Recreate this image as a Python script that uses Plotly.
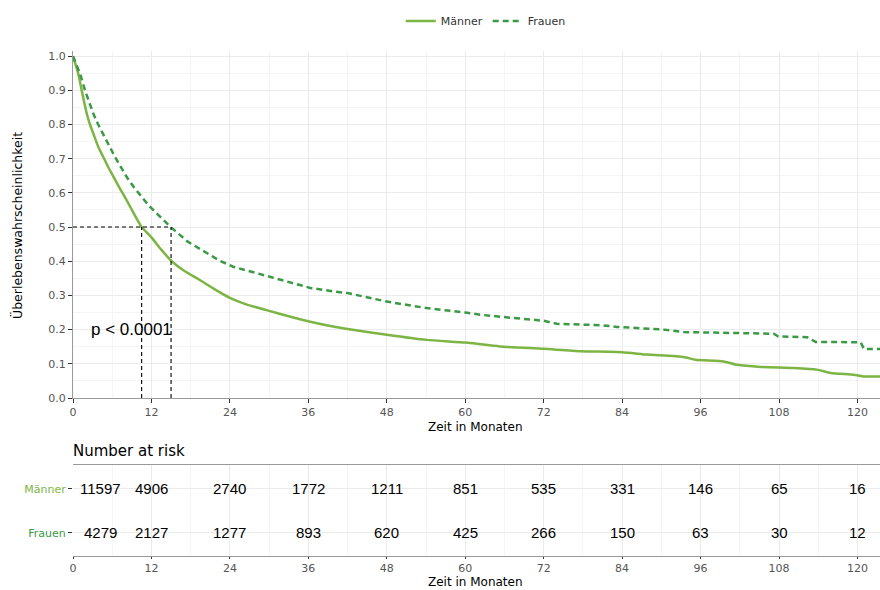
import plotly.graph_objects as go

# Kaplan-Meier estimates (months, survival probability)
t_maenner = [0, 0.4, 0.8, 1.33, 2.1, 2.6, 3.1, 3.8, 4.6, 5.4, 6.2, 7.2, 8.2, 9.3, 10.5, 12.0, 13.5,
             15.1, 17.0, 19.4, 21.5, 24.0, 26.5, 29.6, 33.0, 36.3, 39.8, 42, 48, 54.1, 60, 65.3,
             72, 77.6, 84, 87.8, 93.4, 95.2, 99.5, 101.6, 105.2, 110.3, 113.8, 115.9, 119.4,
             121, 123.5]
s_maenner = [1.0, 0.975, 0.949, 0.90, 0.832, 0.80, 0.774, 0.738, 0.706, 0.675, 0.647, 0.612, 0.579,
             0.540, 0.50, 0.47, 0.434, 0.40, 0.372, 0.345, 0.320, 0.293, 0.274, 0.257, 0.239,
             0.223, 0.209, 0.202, 0.185, 0.170, 0.162, 0.151, 0.144, 0.137, 0.134, 0.127, 0.120,
             0.112, 0.107, 0.097, 0.091, 0.088, 0.083, 0.073, 0.068, 0.063, 0.063]

t_frauen = [0, 0.5, 1.07, 1.84, 2.5, 3.1, 3.8, 4.6, 5.5, 6.4, 7.3, 8.2, 9.3, 10.5, 11.6, 12.8, 14.95,
            17.5, 20.5, 22.5, 24.5, 27.5, 30.7, 33.5, 36.3, 39.8, 42, 48, 54.1, 60, 62.6, 67.4, 72,
            74, 80.7, 83.2, 90.4, 93.4, 100.2, 107.2, 107.9, 112.3, 113.6, 120.5, 121, 123.5]
s_frauen = [1.0, 0.975, 0.949, 0.90, 0.863, 0.832, 0.802, 0.774, 0.739, 0.706, 0.675, 0.647, 0.617,
            0.589, 0.563, 0.540, 0.50, 0.458, 0.423, 0.401, 0.384, 0.368, 0.353, 0.336, 0.322,
            0.312, 0.307, 0.282, 0.263, 0.250, 0.243, 0.234, 0.226, 0.217, 0.213, 0.208, 0.200,
            0.193, 0.190, 0.188, 0.180, 0.178, 0.164, 0.163, 0.143, 0.143]

# Median survival times
median_maenner = 10.5
median_frauen = 15.0

# Number at risk table
risk_times = [0, 12, 24, 36, 48, 60, 72, 84, 96, 108, 120]
risk_maenner = [11597, 4906, 2740, 1772, 1211, 851, 535, 331, 146, 65, 16]
risk_frauen = [4279, 2127, 1277, 893, 620, 425, 266, 150, 63, 30, 12]

x_ticks = [0, 12, 24, 36, 48, 60, 72, 84, 96, 108, 120]
y_ticks = [0.0, 0.1, 0.2, 0.3, 0.4, 0.5, 0.6, 0.7, 0.8, 0.9, 1.0]

COL_M = "#7cb544"
COL_F = "#3a9a44"
GRID = "#ebebeb"
GRID_MINOR = "#f5f5f5"
TICK_FONT = dict(family="DejaVu Sans", size=11, color="#555555")

fig = go.Figure()

fig.add_trace(go.Scatter(x=t_maenner, y=s_maenner, mode="lines", name="Männer",
                         line=dict(color=COL_M, width=2.5, shape="spline", smoothing=0.5),
                         xaxis="x", yaxis="y"))
fig.add_trace(go.Scatter(x=t_frauen, y=s_frauen, mode="lines", name="Frauen",
                         line=dict(color=COL_F, width=2.5, dash="6px,4px"), xaxis="x", yaxis="y"))

# Median reference lines
median_line = dict(color="black", width=1.1, dash="4px,3px")
fig.add_trace(go.Scatter(x=[0, median_frauen], y=[0.5, 0.5], mode="lines", line=median_line,
                         showlegend=False, hoverinfo="skip", xaxis="x", yaxis="y"))
for m in (median_maenner, median_frauen):
    fig.add_trace(go.Scatter(x=[m, m], y=[0, 0.5], mode="lines", line=median_line,
                             showlegend=False, hoverinfo="skip", xaxis="x", yaxis="y"))

# Risk table panel (pixel rows from the top of the page)
TABLE_TOP, TABLE_BOTTOM = 465, 556

title_font = dict(family="DejaVu Sans", size=12, color="black")
annotations = [
    dict(x=8.9, y=0.2, xref="x", yref="y", text="p < 0.0001", showarrow=False,
         font=dict(family="Liberation Sans", size=17, color="black")),
    dict(x=0.54, y=1 - 427 / 590, xref="paper", yref="paper", text="Zeit in Monaten",
         xanchor="center", yanchor="middle", showarrow=False, font=title_font),
    dict(x=17 / 880, y=1 - 226 / 590, xref="paper", yref="paper", text="Überlebenswahrscheinlichkeit",
         xanchor="center", yanchor="middle", textangle=-90, showarrow=False,
         font=dict(family="DejaVu Sans", size=12.5, color="black")),
    dict(x=0.54, y=0, xref="paper", yref="paper", text="Zeit in Monaten", borderpad=0,
         xanchor="center", yanchor="bottom", showarrow=False, font=title_font),
    dict(x=71 / 880, y=1 - 451 / 590, xref="paper", yref="paper", text="Number at risk",
         xanchor="left", yanchor="middle", showarrow=False,
         font=dict(family="DejaVu Sans", size=15, color="black")),
]

# Risk table entries
for row_y, counts in ((2, risk_maenner), (1, risk_frauen)):
    for t, n in zip(risk_times, counts):
        annotations.append(dict(x=t, y=row_y, xref="x2", yref="y2", text=str(n), showarrow=False,
                                xshift=27 if t == 0 else 0,
                                font=dict(family="Liberation Sans", size=15, color="black")))

x_range = [0, 123.45]
axis_common = dict(showgrid=True, gridcolor=GRID, gridwidth=1, zeroline=False,
                   showline=True, linecolor="#9a9a9a", linewidth=1, ticks="outside",
                   ticklen=4, tickcolor="#333333", tickfont=TICK_FONT)

fig.update_layout(
    width=880, height=590,
    margin=dict(l=0, r=0, t=0, b=0),
    paper_bgcolor="white", plot_bgcolor="white",
    showlegend=True,
    legend=dict(orientation="h", x=0.552, y=1 - 21 / 590, xanchor="center", yanchor="middle",
                font=dict(family="DejaVu Sans", size=11, color="#333333"),
                itemwidth=30, tracegroupgap=0),
    xaxis=dict(domain=[73 / 880, 1], range=x_range, tickvals=x_ticks, anchor="y",
               minor=dict(dtick=6, tick0=6, showgrid=True, gridcolor=GRID_MINOR, ticks=""),
               automargin=False, **axis_common),
    yaxis=dict(domain=[(590 - 398) / 590, (590 - 51) / 590], range=[0, 1.015],
               tickvals=y_ticks, ticktext=[f"{v:.1f}" for v in y_ticks], anchor="x",
               minor=dict(dtick=0.05, tick0=0.05, showgrid=True, gridcolor=GRID_MINOR, ticks=""),
               automargin=False, **axis_common),
    xaxis2=dict(domain=[73 / 880, 1], range=x_range, tickvals=x_ticks, anchor="y2", mirror=True,
                minor=dict(dtick=6, tick0=6, showgrid=True, gridcolor=GRID_MINOR, ticks=""),
                automargin=False, **{**axis_common, "ticklen": 2}),
    yaxis2=dict(domain=[(590 - TABLE_BOTTOM) / 590, (590 - TABLE_TOP) / 590],
                range=[0.47, 2.54], anchor="x2",
                tickvals=[2, 1],
                ticktext=[f"<span style='color:{COL_M}'>Männer</span>",
                          f"<span style='color:{COL_F}'>Frauen</span>"],
                automargin=False,
                **{**axis_common, "showline": False}),
    annotations=annotations,
)

# invisible trace so the risk-table axes are drawn
fig.add_trace(go.Scatter(x=[0], y=[1], mode="markers", marker=dict(opacity=0),
                         showlegend=False, hoverinfo="skip", xaxis="x2", yaxis="y2"))

fig.write_html("out.html")
